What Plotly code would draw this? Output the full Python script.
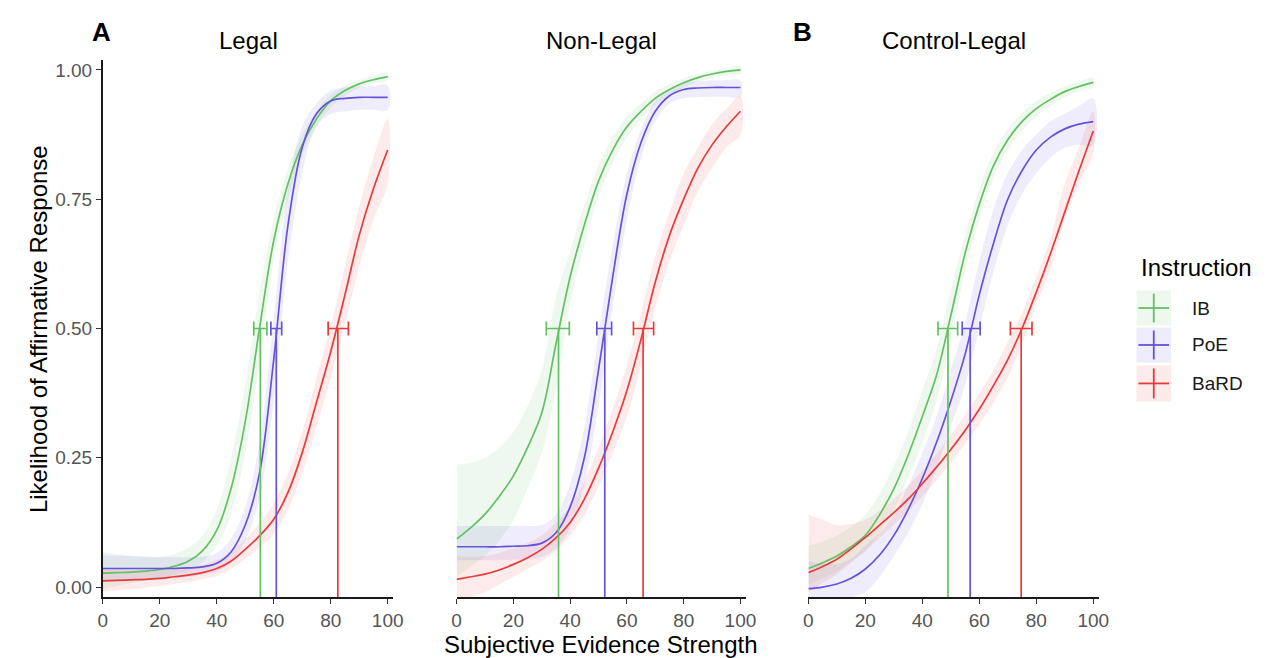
import plotly.graph_objects as go

# ---------------- data ----------------
panels = ["Legal", "Non-Legal", "Control-Legal"]
instructions = ["IB", "PoE", "BaRD"]
colors = {"IB": "#63C063", "PoE": "#6452DA", "BaRD": "#E83A3A"}
fills = {"IB": "rgba(99,192,99,0.11)", "PoE": "rgba(100,82,218,0.10)", "BaRD": "rgba(232,58,58,0.10)"}

# evidence-strength values at which the curves were read
evidence = [0, 5, 10, 15, 20, 25, 30, 35, 40, 45, 50, 55, 60, 65, 70, 75, 80, 85, 90, 95, 100]

# Legal
legal_ib_y = [0.027, 0.028, 0.029, 0.031, 0.034, 0.04, 0.05, 0.07, 0.11, 0.19, 0.32, 0.50, 0.67, 0.78, 0.855, 0.905, 0.94, 0.96, 0.973, 0.981, 0.987]
legal_ib_lo = [-0.005, 0.002, 0.008, 0.013, 0.018, 0.024, 0.032, 0.048, 0.08, 0.14, 0.26, 0.43, 0.63, 0.75, 0.835, 0.89, 0.927, 0.95, 0.965, 0.974, 0.98]
legal_ib_hi = [0.068, 0.064, 0.06, 0.058, 0.058, 0.064, 0.076, 0.10, 0.15, 0.25, 0.39, 0.57, 0.71, 0.81, 0.875, 0.92, 0.952, 0.97, 0.981, 0.988, 0.994]

legal_poe_y = [0.036, 0.036, 0.036, 0.036, 0.036, 0.036, 0.037, 0.039, 0.046, 0.068, 0.12, 0.22, 0.44, 0.70, 0.85, 0.915, 0.94, 0.945, 0.947, 0.947, 0.947]
legal_poe_lo = [0.012, 0.013, 0.014, 0.015, 0.016, 0.018, 0.02, 0.024, 0.03, 0.048, 0.09, 0.17, 0.36, 0.63, 0.80, 0.89, 0.915, 0.92, 0.923, 0.923, 0.922]
legal_poe_hi = [0.062, 0.061, 0.06, 0.059, 0.058, 0.058, 0.058, 0.059, 0.066, 0.094, 0.155, 0.28, 0.52, 0.77, 0.89, 0.935, 0.96, 0.966, 0.968, 0.969, 0.97]

legal_bard_y = [0.012, 0.013, 0.014, 0.015, 0.017, 0.02, 0.023, 0.028, 0.036, 0.05, 0.073, 0.099, 0.131, 0.183, 0.26, 0.357, 0.455, 0.565, 0.68, 0.77, 0.845]
legal_bard_lo = [-0.008, -0.006, -0.004, -0.001, 0.002, 0.006, 0.01, 0.015, 0.022, 0.035, 0.055, 0.076, 0.103, 0.15, 0.22, 0.31, 0.405, 0.51, 0.62, 0.71, 0.78]
legal_bard_hi = [0.035, 0.034, 0.033, 0.033, 0.033, 0.035, 0.037, 0.043, 0.052, 0.068, 0.093, 0.124, 0.162, 0.22, 0.30, 0.405, 0.505, 0.62, 0.735, 0.83, 0.905]

# Non-Legal
nonlegal_ib_y = [0.093, 0.115, 0.141, 0.175, 0.215, 0.27, 0.337, 0.47, 0.60, 0.70, 0.785, 0.845, 0.89, 0.92, 0.945, 0.962, 0.975, 0.985, 0.992, 0.997, 1.0]
nonlegal_ib_lo = [0.02, 0.04, 0.06, 0.09, 0.13, 0.19, 0.26, 0.38, 0.55, 0.66, 0.755, 0.82, 0.87, 0.905, 0.932, 0.952, 0.966, 0.977, 0.985, 0.99, 0.993]
nonlegal_ib_hi = [0.237, 0.24, 0.25, 0.27, 0.30, 0.35, 0.42, 0.56, 0.65, 0.74, 0.815, 0.87, 0.91, 0.935, 0.958, 0.972, 0.984, 0.992, 0.998, 1.003, 1.007]

nonlegal_poe_y = [0.078, 0.078, 0.078, 0.078, 0.079, 0.080, 0.085, 0.105, 0.155, 0.25, 0.42, 0.60, 0.76, 0.86, 0.92, 0.95, 0.962, 0.965, 0.966, 0.966, 0.966]
nonlegal_poe_lo = [0.052, 0.052, 0.052, 0.052, 0.053, 0.054, 0.058, 0.075, 0.115, 0.20, 0.35, 0.54, 0.71, 0.83, 0.90, 0.935, 0.945, 0.947, 0.948, 0.948, 0.948]
nonlegal_poe_hi = [0.118, 0.118, 0.118, 0.118, 0.118, 0.118, 0.12, 0.14, 0.20, 0.31, 0.49, 0.66, 0.80, 0.885, 0.94, 0.962, 0.975, 0.978, 0.98, 0.98, 0.98]

nonlegal_bard_y = [0.015, 0.02, 0.025, 0.033, 0.044, 0.057, 0.073, 0.095, 0.125, 0.17, 0.23, 0.30, 0.38, 0.48, 0.59, 0.68, 0.75, 0.81, 0.855, 0.89, 0.92]
nonlegal_bard_lo = [-0.03, -0.02, -0.01, 0.005, 0.02, 0.035, 0.05, 0.07, 0.10, 0.14, 0.195, 0.26, 0.33, 0.43, 0.54, 0.63, 0.70, 0.765, 0.81, 0.85, 0.875]
nonlegal_bard_hi = [0.06, 0.058, 0.06, 0.066, 0.075, 0.086, 0.10, 0.125, 0.155, 0.205, 0.27, 0.345, 0.43, 0.53, 0.64, 0.725, 0.80, 0.85, 0.895, 0.925, 0.95]

# Control-Legal
control_ib_y = [0.036, 0.047, 0.06, 0.078, 0.10, 0.14, 0.19, 0.255, 0.33, 0.41, 0.525, 0.645, 0.74, 0.815, 0.865, 0.90, 0.925, 0.943, 0.958, 0.968, 0.976]
control_ib_lo = [0.005, 0.017, 0.03, 0.05, 0.07, 0.105, 0.15, 0.21, 0.28, 0.36, 0.475, 0.61, 0.71, 0.79, 0.845, 0.882, 0.91, 0.93, 0.947, 0.958, 0.966]
control_ib_hi = [0.08, 0.088, 0.10, 0.116, 0.14, 0.18, 0.235, 0.30, 0.38, 0.46, 0.575, 0.68, 0.77, 0.84, 0.885, 0.917, 0.94, 0.956, 0.968, 0.977, 0.985]

control_poe_y = [-0.003, 0.0, 0.006, 0.017, 0.035, 0.062, 0.10, 0.15, 0.21, 0.28, 0.36, 0.45, 0.565, 0.665, 0.75, 0.805, 0.845, 0.87, 0.886, 0.895, 0.90]
control_poe_lo = [-0.03, -0.03, -0.03, -0.02, -0.01, 0.02, 0.06, 0.105, 0.16, 0.23, 0.31, 0.39, 0.50, 0.61, 0.70, 0.76, 0.80, 0.83, 0.85, 0.855, 0.855]
control_poe_hi = [0.05, 0.045, 0.045, 0.055, 0.08, 0.105, 0.14, 0.195, 0.26, 0.33, 0.42, 0.51, 0.63, 0.73, 0.80, 0.845, 0.875, 0.90, 0.915, 0.93, 0.945]

control_bard_y = [0.028, 0.04, 0.054, 0.074, 0.096, 0.12, 0.144, 0.17, 0.20, 0.232, 0.266, 0.303, 0.344, 0.39, 0.44, 0.50, 0.57, 0.645, 0.725, 0.805, 0.882]
control_bard_lo = [-0.01, 0.008, 0.025, 0.047, 0.07, 0.095, 0.12, 0.147, 0.175, 0.207, 0.24, 0.277, 0.315, 0.357, 0.405, 0.47, 0.545, 0.615, 0.71, 0.78, 0.84]
control_bard_hi = [0.14, 0.13, 0.12, 0.122, 0.13, 0.148, 0.17, 0.196, 0.225, 0.258, 0.295, 0.333, 0.375, 0.42, 0.475, 0.53, 0.60, 0.675, 0.78, 0.85, 0.92]

# thresholds (x at p = 0.5) with confidence limits
threshold_legal = [55.3, 60.9, 82.5]
ci_low_legal = [53.0, 59.0, 79.1]
ci_high_legal = [57.6, 62.8, 86.2]
threshold_nonlegal = [35.9, 52.2, 65.7]
ci_low_nonlegal = [31.6, 49.4, 62.3]
ci_high_nonlegal = [39.7, 54.6, 69.4]
threshold_control = [49.0, 56.8, 74.7]
ci_low_control = [45.5, 54.0, 70.9]
ci_high_control = [52.4, 60.3, 78.5]

x_ticks = [0, 20, 40, 60, 80, 100]
y_ticks = [0.0, 0.25, 0.5, 0.75, 1.0]
y_ticklabels = ["0.00", "0.25", "0.50", "0.75", "1.00"]

curves = {
    "Legal": {
        "IB": (legal_ib_y, legal_ib_lo, legal_ib_hi),
        "PoE": (legal_poe_y, legal_poe_lo, legal_poe_hi),
        "BaRD": (legal_bard_y, legal_bard_lo, legal_bard_hi),
    },
    "Non-Legal": {
        "IB": (nonlegal_ib_y, nonlegal_ib_lo, nonlegal_ib_hi),
        "PoE": (nonlegal_poe_y, nonlegal_poe_lo, nonlegal_poe_hi),
        "BaRD": (nonlegal_bard_y, nonlegal_bard_lo, nonlegal_bard_hi),
    },
    "Control-Legal": {
        "IB": (control_ib_y, control_ib_lo, control_ib_hi),
        "PoE": (control_poe_y, control_poe_lo, control_poe_hi),
        "BaRD": (control_bard_y, control_bard_lo, control_bard_hi),
    },
}
thresholds = {
    "Legal": (threshold_legal, ci_low_legal, ci_high_legal),
    "Non-Legal": (threshold_nonlegal, ci_low_nonlegal, ci_high_nonlegal),
    "Control-Legal": (threshold_control, ci_low_control, ci_high_control),
}

# ---------------- layout geometry ----------------
W, H = 1270, 658
FONT = "Liberation Sans, Arial, sans-serif"
Y_RANGE = [-0.0193, 1.0193]
X_RANGE = [0, 102]
panel_px = [(99, 393), (457, 750), (813, 1107)]
y_px = (60, 598)


def fx(px):
    return px / W


def fy(py):
    return (H - py) / H


fig = go.Figure()

for i, panel in enumerate(panels):
    xa = "x" if i == 0 else f"x{i+1}"
    ya = "y" if i == 0 else f"y{i+1}"
    # ribbons
    for ins in instructions:
        ys, lo, hi = curves[panel][ins]
        fig.add_trace(go.Scatter(
            x=list(evidence) + list(evidence)[::-1], y=list(hi) + list(lo)[::-1],
            fill="toself", fillcolor=fills[ins], mode="lines",
            line=dict(width=0, shape="spline", smoothing=1.0),
            hoverinfo="skip", showlegend=False, xaxis=xa, yaxis=ya))
    # fitted curves
    for ins in instructions:
        ys, lo, hi = curves[panel][ins]
        fig.add_trace(go.Scatter(
            x=evidence, y=ys, mode="lines", name=ins,
            line=dict(color=colors[ins], width=1.7, shape="spline", smoothing=1.0),
            showlegend=False, xaxis=xa, yaxis=ya))
    # thresholds: vertical segment + horizontal CI
    th, cl, ch = thresholds[panel]
    for k, ins in enumerate(instructions):
        fig.add_trace(go.Scatter(
            x=[th[k], th[k]], y=[Y_RANGE[0], 0.5], mode="lines",
            line=dict(color=colors[ins], width=1.7),
            hoverinfo="skip", showlegend=False, xaxis=xa, yaxis=ya))
        fig.add_trace(go.Scatter(
            x=[th[k]], y=[0.5], mode="markers",
            marker=dict(size=1, color=colors[ins]),
            error_x=dict(type="data", symmetric=False,
                         array=[ch[k] - th[k]], arrayminus=[th[k] - cl[k]],
                         color=colors[ins], thickness=1.7, width=7),
            showlegend=False, xaxis=xa, yaxis=ya))

layout = dict(
    width=W, height=H, margin=dict(l=0, r=0, t=0, b=0),
    paper_bgcolor="white", plot_bgcolor="white",
    font=dict(family=FONT, color="#000000"),
    showlegend=False,
)
for i in range(3):
    xk = "xaxis" if i == 0 else f"xaxis{i+1}"
    yk = "yaxis" if i == 0 else f"yaxis{i+1}"
    a, b = panel_px[i]
    layout[xk] = dict(
        domain=[fx(a), fx(b)], range=X_RANGE, anchor="y" if i == 0 else f"y{i+1}",
        showgrid=False, zeroline=False, showline=True, linecolor="#1a1a1a", linewidth=1.8,
        ticks="outside", ticklen=5, tickwidth=1.3, tickcolor="#333333",
        tickvals=x_ticks, tickfont=dict(size=19, color="#555555", family=FONT),
    )
    ydict = dict(
        domain=[fy(y_px[1]), fy(y_px[0])], range=Y_RANGE, anchor="x" if i == 0 else f"x{i+1}",
        showgrid=False, zeroline=False,
    )
    if i == 0:
        ydict.update(showline=True, linecolor="#1a1a1a", linewidth=1.8,
                     ticks="outside", ticklen=5, tickwidth=1.3, tickcolor="#333333",
                     tickvals=y_ticks, ticktext=y_ticklabels,
                     tickfont=dict(size=19, color="#555555", family=FONT))
    else:
        ydict.update(showline=False, showticklabels=False, ticks="")
    layout[yk] = ydict

annotations = []


def txt(text, px, py, size, xanchor="center", bold=False, angle=0, color="#000000"):
    annotations.append(dict(
        text=f"<b>{text}</b>" if bold else text, x=fx(px), y=fy(py),
        xref="paper", yref="paper", xanchor=xanchor, yanchor="middle",
        showarrow=False, textangle=angle,
        font=dict(size=size, family=FONT, color=color)))


txt("A", 98, 32, 26, bold=True)
txt("B", 807, 32, 26, bold=True)
for i, panel in enumerate(panels):
    a, b = panel_px[i]
    txt(panel, (a + b) / 2, 41, 24)
txt("Subjective Evidence Strength", 603, 645, 24)
txt("Likelihood of Affirmative Response", 34, 330, 24, angle=-90)

# manual legend
txt("Instruction", 1148, 268, 24, xanchor="left")
shapes = []
legend_rows = [(291, 326), (328, 363), (366, 402)]
for k, ins in enumerate(instructions):
    t, btm = legend_rows[k]
    shapes.append(dict(type="rect", xref="paper", yref="paper",
                       x0=fx(1145), x1=fx(1180), y0=fy(btm), y1=fy(t),
                       fillcolor=fills[ins], line=dict(width=0)))
    mid = (t + btm) / 2
    shapes.append(dict(type="line", xref="paper", yref="paper",
                       x0=fx(1147), x1=fx(1178), y0=fy(mid), y1=fy(mid),
                       line=dict(color=colors[ins], width=1.8)))
    shapes.append(dict(type="line", xref="paper", yref="paper",
                       x0=fx(1162.5), x1=fx(1162.5), y0=fy(btm - 3), y1=fy(t + 3),
                       line=dict(color=colors[ins], width=1.8)))
    txt(ins, 1199, mid, 19, xanchor="left", color="#1a1a1a")

layout["annotations"] = annotations
layout["shapes"] = shapes
fig.update_layout(**layout)

fig.write_html("out.html", config={"displayModeBar": False},
               post_script="document.body.style.margin='0';")
